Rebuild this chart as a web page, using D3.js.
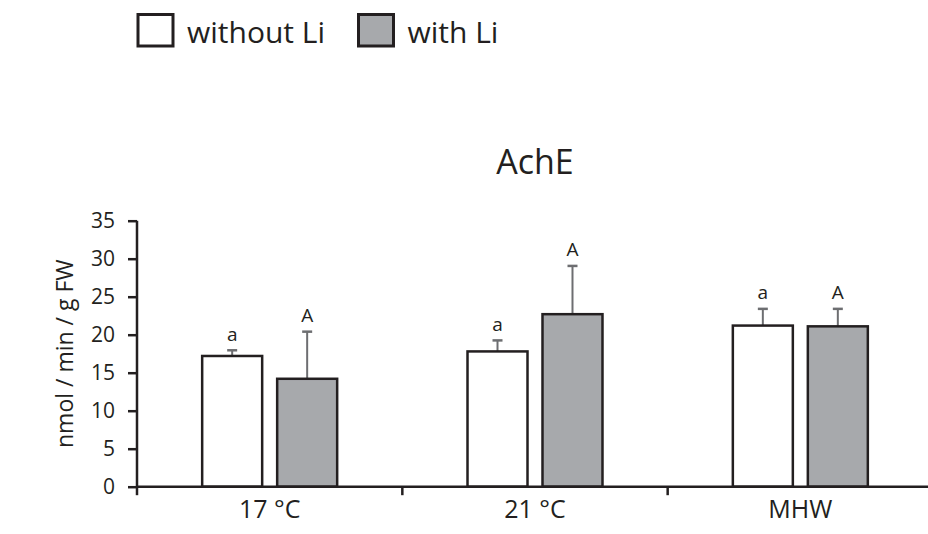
<!DOCTYPE html>
<html>
<head>
<meta charset="utf-8">
<script src="https://cdn.jsdelivr.net/npm/d3@7"></script>
<style>
  html, body { margin: 0; padding: 0; background: #fff; }
  svg { display: block; font-family: "Open Sans", "Noto Sans", sans-serif; }
</style>
</head>
<body>
<svg id="chart" width="928" height="534"></svg>
<script>
// ---- data ----
const categories = ["17 °C", "21 °C", "MHW"];
const seriesNames = ["without Li", "with Li"];
const withoutLi = [17.2, 17.8, 21.2];
const withLi = [14.2, 22.7, 21.1];
const withoutLiErr = [0.75, 1.45, 2.2];
const withLiErr = [6.2, 6.35, 2.3];
const withoutLiLetters = ["a", "a", "a"];
const withLiLetters = ["A", "A", "A"];
const yTicks = [0, 5, 10, 15, 20, 25, 30, 35];
const title = "AchE";
const yLabel = "nmol / min / g FW";

const fills = ["#ffffff", "#a7a9ac"];
const ink = "#231f20";

const svg = d3.select("#chart");

const x0 = 137, x1 = 933, yBottom = 486.7, yTop = 220.7;

const x = d3.scaleBand().domain(categories).range([x0, x1]).paddingInner(0).paddingOuter(0);
const xSub = d3.scaleBand().domain(seriesNames).range([0, x.bandwidth()])
  .paddingInner(0.2).paddingOuter(0.869);
const y = d3.scaleLinear().domain([0, 35]).range([yBottom, yTop]);

const rows = [];
categories.forEach((c, i) => {
  rows.push({cat: c, s: seriesNames[0], v: withoutLi[i], e: withoutLiErr[i], l: withoutLiLetters[i], f: fills[0]});
  rows.push({cat: c, s: seriesNames[1], v: withLi[i], e: withLiErr[i], l: withLiLetters[i], f: fills[1]});
});

// title
svg.append("text").attr("x", (x0 + x1) / 2).attr("y", 174)
  .attr("text-anchor", "middle").attr("font-size", 34).attr("fill", ink).text(title);

// legend
const legendX = [138, 358.5];
seriesNames.forEach((s, i) => {
  const g = svg.append("g").attr("transform", `translate(${legendX[i]},14.5)`);
  g.append("rect").attr("width", 35).attr("height", 31.5).attr("fill", fills[i])
    .attr("stroke", ink).attr("stroke-width", 3);
  g.append("text").attr("x", 49).attr("y", 28.5).attr("font-size", 30).attr("fill", ink).text(s);
});

// error bars
const eb = svg.append("g");
rows.forEach(d => {
  const cx = x(d.cat) + xSub(d.s) + xSub.bandwidth() / 2;
  eb.append("line").attr("x1", cx).attr("x2", cx).attr("y1", y(d.v)).attr("y2", y(d.v + d.e))
    .attr("stroke", "#6d6e71").attr("stroke-width", 2);
  eb.append("line").attr("x1", cx - 5).attr("x2", cx + 5).attr("y1", y(d.v + d.e)).attr("y2", y(d.v + d.e))
    .attr("stroke", "#6d6e71").attr("stroke-width", 2.5);
  svg.append("text").attr("x", cx).attr("y", y(d.v + d.e) - 9.5)
    .attr("text-anchor", "middle").attr("font-size", 19).attr("fill", ink).text(d.l);
});

// bars
svg.append("g").selectAll("rect").data(rows).join("rect")
  .attr("x", d => x(d.cat) + xSub(d.s))
  .attr("width", xSub.bandwidth())
  .attr("y", d => y(d.v))
  .attr("height", d => y(0) - y(d.v))
  .attr("fill", d => d.f)
  .attr("stroke", ink).attr("stroke-width", 2.5);

// y axis
const yAxis = svg.append("g").attr("transform", `translate(${x0},0)`)
  .call(d3.axisLeft(y).tickValues(yTicks).tickSize(9).tickPadding(13).tickFormat(d3.format("d")));
yAxis.select(".domain").attr("stroke", ink).attr("stroke-width", 2.5)
  .attr("d", `M0,${yTop}V${yBottom}`);
yAxis.selectAll(".tick line").attr("stroke", ink).attr("stroke-width", 2.5);
yAxis.selectAll(".tick text").attr("font-size", 21).attr("fill", ink)
  .attr("font-family", "'Open Sans', sans-serif");

// x axis
const xAxis = svg.append("g").attr("transform", `translate(0,${yBottom})`)
  .call(d3.axisBottom(x).tickSize(0).tickPadding(14));
xAxis.select(".domain").attr("stroke", ink).attr("stroke-width", 2.5)
  .attr("d", `M${x0},0H928`);
xAxis.selectAll(".tick text").attr("font-size", 25).attr("fill", ink)
  .attr("font-family", "'Open Sans', sans-serif");
// group boundary ticks
xAxis.append("g").selectAll("line").data(categories).join("line")
  .attr("x1", d => x(d)).attr("x2", d => x(d)).attr("y1", 0).attr("y2", 8.5)
  .attr("stroke", ink).attr("stroke-width", 2.5);

// y label
svg.append("text")
  .attr("transform", `translate(73,${(yTop + yBottom) / 2}) rotate(-90)`)
  .attr("text-anchor", "middle").attr("font-size", 23).attr("fill", ink).text(yLabel);
</script>
</body>
</html>
